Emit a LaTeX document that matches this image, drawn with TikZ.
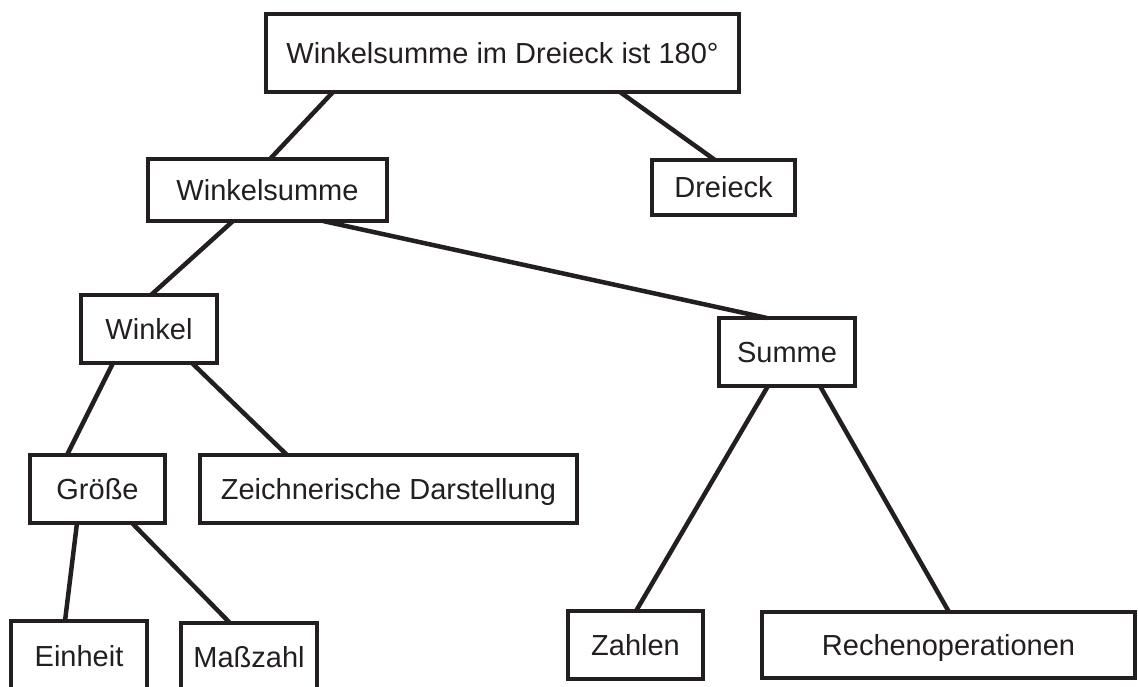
\documentclass[tikz,border=0pt]{standalone}
\usepackage{fontspec}
\setmainfont{Liberation Sans}
\definecolor{ink}{RGB}{35,31,32}
\begin{document}
\begin{tikzpicture}[x=1pt,y=-1pt,
  box/.style={draw=ink, text=ink, line width=4.5pt, inner sep=0pt, outer sep=0pt,
    text height=20.8pt, text depth=0pt, font=\fontsize{29}{34}\selectfont},
  link/.style={draw=ink, line width=4.5pt}]
\useasboundingbox (0,0) rectangle (1138,686);
\clip (0,0) rectangle (1138,686);
\fill[white] (0,0) rectangle (1138,686);
\node[box, minimum width=473pt, minimum height=78pt] (top) at (502.5,53) {Winkelsumme im Dreieck ist 180°};
\node[box, minimum width=239pt, minimum height=62pt] (wsum) at (267.5,190) {Winkelsumme};
\node[box, minimum width=143pt, minimum height=55pt] (dreieck) at (723.5,187.5) {Dreieck};
\node[box, minimum width=136pt, minimum height=68pt] (winkel) at (149,329) {Winkel};
\node[box, minimum width=136pt, minimum height=68pt] (summe) at (787,352) {Summe};
\node[box, minimum width=135pt, minimum height=68pt] (groesse) at (97.5,489) {Größe};
\node[box, minimum width=377pt, minimum height=68pt] (zeich) at (388.5,489) {Zeichnerische Darstellung};
\node[box, minimum width=136pt, minimum height=70pt] (einheit) at (79,656) {Einheit};
\node[box, minimum width=136pt, minimum height=68pt] (masszahl) at (249,657) {Maßzahl};
\node[box, minimum width=135pt, minimum height=68pt] (zahlen) at (635.5,645) {Zahlen};
\node[box, minimum width=373pt, minimum height=66pt] (rechen) at (948.5,645) {Rechenoperationen};
\draw[link] ([xshift=67pt]top.south west) -- ([xshift=122pt]wsum.north west);
\draw[link] ([xshift=354pt]top.south west) -- ([xshift=63pt]dreieck.north west);
\draw[link] ([xshift=85pt]wsum.south west) -- ([xshift=70pt]winkel.north west);
\draw[link] ([xshift=175pt]wsum.south west) -- ([xshift=48pt]summe.north west);
\draw[link] ([xshift=32pt]winkel.south west) -- ([xshift=37pt]groesse.north west);
\draw[link] ([xshift=111pt]winkel.south west) -- ([xshift=87pt]zeich.north west);
\draw[link] ([xshift=47pt]groesse.south west) -- ([xshift=54pt]einheit.north west);
\draw[link] ([xshift=102pt]groesse.south west) -- ([xshift=49pt]masszahl.north west);
\draw[link] ([xshift=49pt]summe.south west) -- ([xshift=68pt]zahlen.north west);
\draw[link] ([xshift=101pt]summe.south west) -- ([xshift=187pt]rechen.north west);
\end{tikzpicture}
\end{document}
